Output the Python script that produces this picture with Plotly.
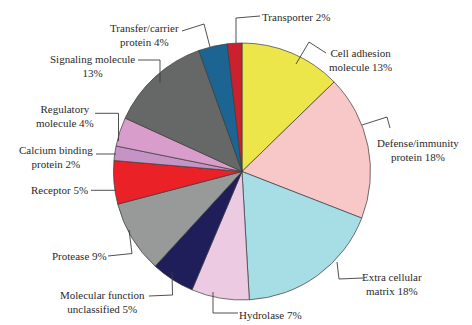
import plotly.graph_objects as go

W, H = 472, 325

# ---- data (counts; labels show rounded %) ----
categories = ["Cell adhesion molecule", "Defense/immunity protein", "Extra cellular matrix",
              "Hydrolase", "Molecular function unclassified", "Protease", "Receptor",
              "Calcium binding protein", "Regulatory molecule", "Signaling molecule",
              "Transfer/carrier protein", "Transporter"]
counts = [7, 10, 10, 4, 3, 5, 3, 1, 2, 7, 2, 1]
label_texts = ["Cell adhesion<br>molecule 13%", "Defense/immunity<br>protein 18%",
               "Extra cellular<br>matrix 18%", "Hydrolase 7%",
               "Molecular function<br>unclassified 5%", "Protease 9%", "Receptor 5%",
               "Calcium binding<br>protein 2%", "Regulatory<br>molecule 4%",
               "Signaling molecule<br>13%", "Transfer/carrier<br>protein 4%", "Transporter 2%"]
colors = ["#ECE64A", "#F8C8C9", "#A7DDE5", "#ECCAE2", "#201D5B", "#979A99",
          "#EB2128", "#C594C4", "#D89DCA", "#656867", "#1C6491", "#CB202E"]

# ---- layout (pixel positions of labels and leader lines) ----
cx, cy, R = 242, 171.5, 128.5
label_pos = [(360, 60.5), (418, 150), (392, 283.5), (270, 315), (102, 301.5),
             (79, 256), (59, 190), (56, 157), (65, 115.5), (92, 65.5),
             (144, 34.5), (296, 17)]
leaders = [
    [(326, 53), (309, 42), (296, 64)],
    [(362, 125), (387, 117), (390, 128)],
    [(337, 262), (339, 279), (363, 278)],
    [(213, 292), (213, 313), (238, 313)],
    [(149, 296), (172.5, 295), (172, 272)],
    [(108, 256), (132, 253.5), (129, 230)],
    [(91, 190.3), (115.5, 190.3)],
    [(96, 154), (116, 154)],
    [(95, 113.3), (118.5, 113.3), (118.5, 141)],
    [(138, 60), (160, 60), (160, 83)],
    [(182, 31), (204, 24), (210, 47)],
    [(260, 16), (236, 18), (236, 43)],
]

def px(x):
    return x / W

def py(y):
    return 1 - y / H

fig = go.Figure(go.Pie(
    labels=categories, values=counts, sort=False, direction="clockwise", rotation=0,
    marker=dict(colors=colors, line=dict(color="#3a3a3a", width=0.7)),
    textinfo="none", hoverinfo="label+percent", showlegend=False,
    domain=dict(x=[px(cx - R), px(cx + R)], y=[py(cy + R), py(cy - R)]),
))

for txt, (x, y) in zip(label_texts, label_pos):
    fig.add_annotation(x=px(x), y=py(y), xref="paper", yref="paper", text=txt,
                       showarrow=False, xanchor="center", yanchor="middle", align="center",
                       font=dict(family="Liberation Serif, Times New Roman, serif", size=11,
                                 color="#2a2a2a"))

for pts in leaders:
    path = "M " + " L ".join(f"{px(x)},{py(y)}" for x, y in pts)
    fig.add_shape(type="path", path=path, xref="paper", yref="paper",
                  line=dict(color="#3c3c3c", width=0.9))

fig.update_layout(width=W, height=H, margin=dict(l=0, r=0, t=0, b=0),
                  paper_bgcolor="white", plot_bgcolor="white")

fig.write_html("out.html", config={"displayModeBar": False},
               post_script="document.body.style.margin='0';document.body.style.overflow='hidden';")
